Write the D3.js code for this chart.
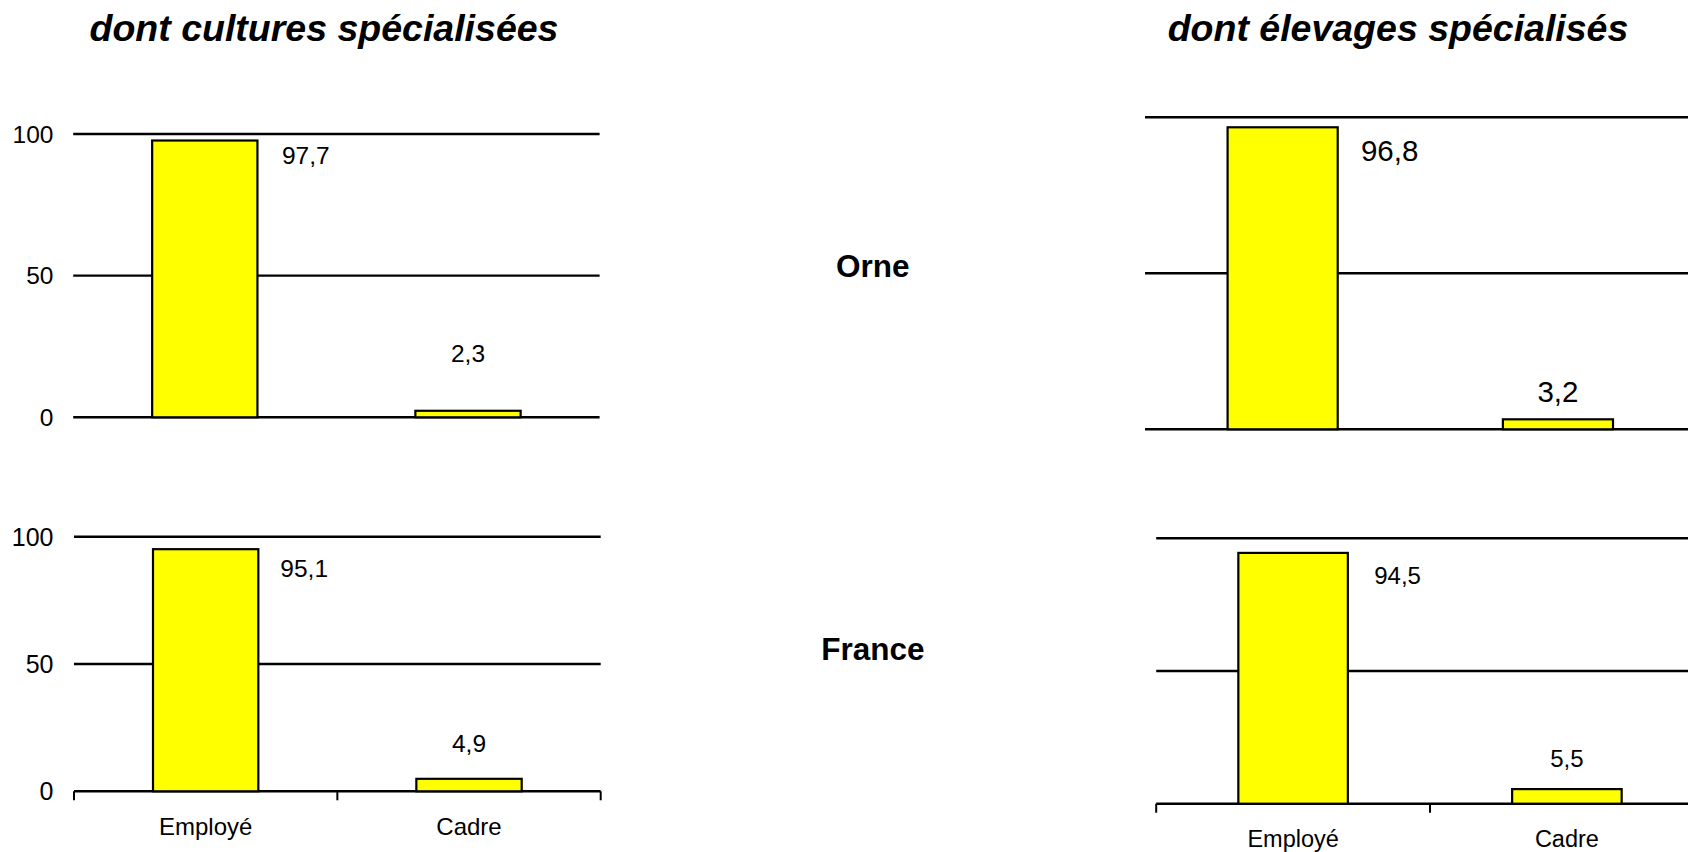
<!DOCTYPE html>
<html>
<head>
<meta charset="utf-8">
<script src="https://cdn.jsdelivr.net/npm/d3@7"></script>
<style>
  html, body { margin: 0; padding: 0; background: #fff; }
  svg { display: block; }
  text { font-family: "Liberation Sans", Arial, sans-serif; fill: #000; }
</style>
</head>
<body>
<svg id="chart" width="1688" height="852"></svg>
<script>
// ---- data ----
const categories = ["Employé", "Cadre"];
const culturesOrne = [97.7, 2.3];
const culturesFrance = [95.1, 4.9];
const elevagesOrne = [96.8, 3.2];
const elevagesFrance = [94.5, 5.5];
const yTicks = [0, 50, 100];
const titles = ["dont cultures spécialisées", "dont élevages spécialisés"];
const rowLabels = ["Orne", "France"];

// ---- layout (pixels) ----
const panels = [
  { values: culturesOrne,   xr: [73.2, 599.6],   yr: [417.3, 134],   yLabels: true,  xAxis: false, labelFs: 24.5, tickFs: 24.5,
    labelOff: [[101, 14.5], [0, -57.5]] },
  { values: culturesFrance, xr: [74, 600.7],     yr: [791.3, 536.7], yLabels: true,  xAxis: true,  labelFs: 24.5, tickFs: 25,
    labelOff: [[98.5, 19], [0, -35.5]], catFs: 24, catBaseline: 835 },
  { values: elevagesOrne,   xr: [1145, 1695.6],  yr: [429.3, 117.3], yLabels: false, xAxis: false, labelFs: 29.5,
    labelOff: [[107, 23.5], [0, -28.3]] },
  { values: elevagesFrance, xr: [1156.2, 1703.8], yr: [803.7, 538.3], yLabels: false, xAxis: true, labelFs: 24,
    labelOff: [[104.5, 23], [0, -30.5]], catFs: 23.5, catBaseline: 846.7 }
];
const titlePos = [{ x: 324, y: 40.7 }, { x: 1398, y: 40.7 }];
const rowLabelPos = [{ x: 872.7, y: 276.5 }, { x: 872.8, y: 659.8 }];

const svg = d3.select("#chart");
svg.append("rect").attr("width", 1688).attr("height", 852).attr("fill", "#fff");

// titles
svg.selectAll("text.title").data(titles).enter().append("text")
  .attr("class", "title")
  .attr("x", (d, i) => titlePos[i].x)
  .attr("y", (d, i) => titlePos[i].y)
  .attr("text-anchor", "middle")
  .attr("font-size", 37.5)
  .attr("font-weight", "bold")
  .attr("font-style", "italic")
  .text(d => d);

// row labels
svg.selectAll("text.row").data(rowLabels).enter().append("text")
  .attr("class", "row")
  .attr("x", (d, i) => rowLabelPos[i].x)
  .attr("y", (d, i) => rowLabelPos[i].y)
  .attr("text-anchor", "middle")
  .attr("font-size", 31.5)
  .attr("font-weight", "bold")
  .text(d => d);

const fmt = v => d3.format(".1f")(v).replace(".", ",");

panels.forEach(p => {
  const x = d3.scaleBand().domain(categories).range(p.xr).paddingInner(0.6).paddingOuter(0.3);
  const y = d3.scaleLinear().domain([0, 100]).range(p.yr);
  const g = svg.append("g");

  // gridlines
  g.selectAll("line.grid").data(yTicks).enter().append("line")
    .attr("x1", p.xr[0]).attr("x2", p.xr[1])
    .attr("y1", d => y(d)).attr("y2", d => y(d))
    .attr("stroke", "#000").attr("stroke-width", 2.4);

  // y tick labels
  if (p.yLabels) {
    g.selectAll("text.ytick").data(yTicks).enter().append("text")
      .attr("x", 53.5)
      .attr("y", d => y(d) + p.tickFs * 0.36)
      .attr("text-anchor", "end")
      .attr("font-size", p.tickFs)
      .text(d => d);
  }

  // x axis ticks + category labels
  if (p.xAxis) {
    const bounds = d3.range(categories.length + 1).map(i => p.xr[0] + i * x.step());
    g.selectAll("line.xtick").data(bounds).enter().append("line")
      .attr("x1", d => d).attr("x2", d => d)
      .attr("y1", y(0)).attr("y2", y(0) + 9)
      .attr("stroke", "#000").attr("stroke-width", 2);
    g.selectAll("text.cat").data(categories).enter().append("text")
      .attr("x", d => x(d) + x.bandwidth() / 2)
      .attr("y", p.catBaseline)
      .attr("text-anchor", "middle")
      .attr("font-size", p.catFs)
      .text(d => d);
  }

  // bars
  g.selectAll("rect.bar").data(p.values).enter().append("rect")
    .attr("x", (d, i) => x(categories[i]))
    .attr("y", d => y(d))
    .attr("width", x.bandwidth())
    .attr("height", d => y(0) - y(d))
    .attr("fill", "#FFFF00")
    .attr("stroke", "#000").attr("stroke-width", 2.2);

  // value labels
  g.selectAll("text.val").data(p.values).enter().append("text")
    .attr("x", (d, i) => x(categories[i]) + x.bandwidth() / 2 + p.labelOff[i][0])
    .attr("y", (d, i) => y(d) + p.labelOff[i][1] + p.labelFs * 0.358)
    .attr("text-anchor", "middle")
    .attr("font-size", p.labelFs)
    .text(d => fmt(d));
});
</script>
</body>
</html>
